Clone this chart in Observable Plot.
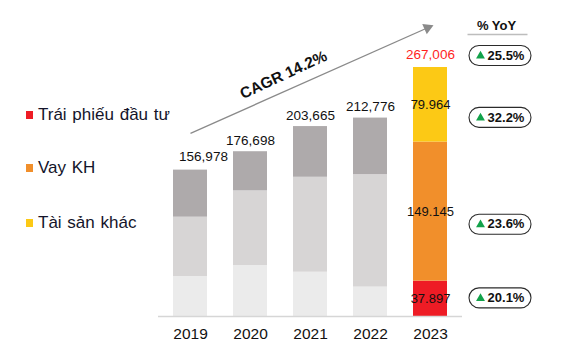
<!DOCTYPE html>
<html>
<head>
<meta charset="utf-8">
<script src="https://cdn.jsdelivr.net/npm/d3@7"></script>
<script src="https://cdn.jsdelivr.net/npm/@observablehq/plot@0.6"></script>
<style>
  html, body { margin: 0; padding: 0; background: #fff; }
  #wrap { position: relative; width: 564px; height: 350px; font-family: "Liberation Sans", Arial, sans-serif; }
  #legend { position: absolute; left: 26px; top: 0; }
  .item { position: absolute; left: 0; white-space: pre; font-size: 17px; color: #14142a; line-height: 20px; transform: translateY(-50%); word-spacing: 1px; }
  .sw { display: inline-block; width: 7px; height: 8px; margin-right: 5px; vertical-align: 1px; }
</style>
</head>
<body>
<div id="wrap"><div id="legend"></div></div>
<script>
// ---- data ----
const years = ["2019", "2020", "2021", "2022", "2023"];
const seriesNames = ["Trái phiếu đầu tư", "Vay KH", "Tài sản khác"];
const traiPhieu  = [42900, 54700, 47500, 31555, 37897];
const vayKH      = [63600, 80000, 101800, 120668, 149145];
const taiSanKhac = [50478, 41998, 54365, 60553, 79964];
const totals     = [156978, 176698, 203665, 212776, 267006];
const yoyTotal   = "25.5%";
const yoySeries  = ["20.1%", "23.6%", "32.2%"]; // Trái phiếu, Vay KH, Tài sản khác
const cagrLabel  = "CAGR 14.2%";
const yoyTitle   = "% YoY";
const cagrFrom   = 196400; // arrow level above 2019
const cagrTo     = 311000; // arrow level above 2023

// ---- styles ----
const hiColors   = ["#ee1c25", "#f18f2b", "#fcc915"];
const grayColors = ["#ebebeb", "#d7d5d5", "#aeaaab"];
const font = "Liberation Sans, Arial, sans-serif";

const seriesValues = [traiPhieu, vayKH, taiSanKhac];
const rows = years.flatMap((yr, i) => seriesNames.map((s, j) => ({year: yr, series: s, k: j, value: seriesValues[j][i]})));
const totalRows = years.map((yr, i) => ({year: yr, total: totals[i]}));
const last = years.length - 1;
const lastYear = years[last];

// midpoints of the last year's segments
let acc = 0;
const lastSegs = seriesValues.map((vals, j) => {
  const v = vals[last];
  const mid = acc + v / 2;
  acc += v;
  return {year: lastYear, k: j, value: v, mid, yoy: yoySeries[j]};
});
const lastTotal = totals[last];

const thFmt = d3.format(",");
const dotFmt = v => thFmt(v).replace(/,/g, ".");

const pill = {
  draw(ctx) {
    const w = 62, h = 20, r = 10;
    ctx.moveTo(-w / 2 + r, -h / 2);
    ctx.lineTo(w / 2 - r, -h / 2);
    ctx.arc(w / 2 - r, 0, r, -Math.PI / 2, Math.PI / 2);
    ctx.lineTo(-w / 2 + r, h / 2);
    ctx.arc(-w / 2 + r, 0, r, Math.PI / 2, 3 * Math.PI / 2);
    ctx.closePath();
  }
};

function pillMarks(data, yAcc, dy) {
  return [
    Plot.dot(data, {x: () => lastYear, y: yAcc, symbol: pill, r: 5, fill: "#fff", stroke: "#2b2b2b", strokeWidth: 1.1, dx: 69.5, dy}),
    Plot.dot(data, {x: () => lastYear, y: yAcc, symbol: "triangle", r: 3.3, fill: "#12a24a", stroke: null, dx: 50, dy: dy + 0.5}),
    Plot.text(data, {x: () => lastYear, y: yAcc, text: d => d.yoy, dx: 75.5, dy, fontSize: 13, fontWeight: "bold", fill: "#111"})
  ];
}

const arrowRow = [{x1: years[0], x2: lastYear, y1: cagrFrom, y2: cagrTo}];
const midYear = years[Math.floor(years.length / 2)];

const chart = Plot.plot({
  width: 564,
  height: 350,
  marginLeft: 158,
  marginRight: 102,
  marginTop: 67,
  marginBottom: 34,
  style: {fontFamily: font, fontSize: "15.5px", color: "#111", background: "transparent"},
  x: {domain: years, paddingInner: 0.434, paddingOuter: 0.217, align: 0.5, tickSize: 0, tickPadding: 11, label: null},
  y: {domain: [0, lastTotal], axis: null},
  color: {type: "identity"},
  marks: [
    Plot.barY(rows, {x: "year", y: "value", fill: d => (d.year === lastYear ? hiColors : grayColors)[d.k]}),
    Plot.ruleY([0], {stroke: "#d6d6d6", strokeWidth: 1.5}),
    // totals
    Plot.text(totalRows.filter((d, i) => i === 0), {x: "year", y: "total", text: d => thFmt(d.total), dy: -13, dx: 13, fontSize: 13.5, fill: "#111"}),
    Plot.text(totalRows.filter((d, i) => i > 0 && i < last), {x: "year", y: "total", text: d => thFmt(d.total), dy: -11, fontSize: 13.5, fill: "#111"}),
    Plot.text(totalRows.filter((d, i) => i === last), {x: "year", y: "total", text: d => thFmt(d.total), dy: -13, fontSize: 13.5, fill: "#ff1f1f"}),
    // segment labels for last year
    Plot.text(lastSegs, {x: "year", y: "mid", text: d => dotFmt(d.value), fontSize: 13, fill: "#111"}),
    // CAGR arrow
    Plot.link(arrowRow, {x1: "x1", x2: "x2", y1: "y1", y2: "y2", stroke: "#8a8a8a", strokeWidth: 1.3}),
    Plot.dot(arrowRow, {x: "x2", y: "y2", symbol: "triangle", r: 4.2, fill: "#8a8a8a", stroke: null, rotate: 66.3, dx: -3, dy: 1.3}),
    Plot.text([cagrLabel], {x: () => midYear, y: () => (cagrFrom + cagrTo) / 2, text: d => d, dx: -27, dy: -5, rotate: -25, fontSize: 15.5, fontWeight: "bold", fill: "#111"}),
    // YoY header
    Plot.text([yoyTitle], {x: () => lastYear, y: () => lastTotal, text: d => d, dx: 66, dy: -42, fontSize: 13, fontWeight: "bold", fill: "#111"}),
    Plot.tickY([lastTotal], {x: () => lastYear, y: d => d, dx: 67.5, dy: -33, insetLeft: -13, insetRight: -13, stroke: "#bdbdbd", strokeWidth: 1.5}),
    // YoY pills
    ...pillMarks([{yoy: yoyTotal, y: lastTotal}], "y", -12),
    ...pillMarks(lastSegs.filter(d => d.k > 0), "mid", 12.6),
    ...pillMarks(lastSegs.filter(d => d.k === 0), "mid", -1)
  ]
});

const wrap = document.getElementById("wrap");
wrap.insertBefore(chart, wrap.firstChild);

// legend
const legendY = [115, 168, 223];
const legend = document.getElementById("legend");
seriesNames.forEach((s, j) => {
  const div = document.createElement("div");
  div.className = "item";
  div.style.top = legendY[j] + "px";
  const sw = document.createElement("span");
  sw.className = "sw";
  sw.style.background = hiColors[j];
  div.appendChild(sw);
  div.appendChild(document.createTextNode(s));
  legend.appendChild(div);
});
</script>
</body>
</html>
